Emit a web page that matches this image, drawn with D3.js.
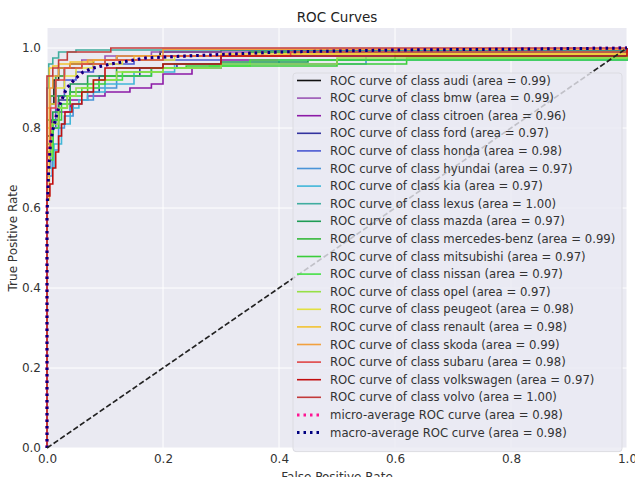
<!DOCTYPE html>
<html>
<head>
<meta charset="utf-8">
<script src="https://cdn.jsdelivr.net/npm/d3@7"></script>
<style>
  body { margin: 0; background: #fff; }
  svg { display: block; font-family: "DejaVu Sans", sans-serif; }
</style>
</head>
<body>
<div class="canvas"></div>
<script>
// ROC CURVES (d3.js)

// class names and areas, in legend order
const classes = ['audi', 'bmw', 'citroen', 'ford', 'honda', 'hyundai', 'kia', 'lexus', 'mazda',
    'mercedes-benz', 'mitsubishi', 'nissan', 'opel', 'peugeot', 'renault', 'skoda', 'subaru',
    'volkswagen', 'volvo'];
const areas = [0.99, 0.99, 0.96, 0.97, 0.98, 0.97, 0.97, 1.00, 0.97, 0.99, 0.97, 0.97, 0.97,
    0.98, 0.98, 0.99, 0.98, 0.97, 1.00];

// corner points of each class curve (false positive rate / true positive rate)
const classFpr = [
    [0, 0, 0.005, 0.012, 0.02, 0.04, 0.08, 0.12, 0.195, 0.3, 1],
    [0, 0, 0.006, 0.015, 0.03, 0.06, 0.1, 0.18, 1],
    [0, 0, 0.01, 0.02, 0.04, 0.07, 0.1, 0.143, 0.18, 0.2, 0.25, 0.3, 0.935, 1],
    [0, 0, 0.008, 0.02, 0.04, 0.057, 0.09, 0.16, 0.224, 0.5, 0.95, 1],
    [0, 0, 0.005, 0.015, 0.03, 0.05, 0.08, 0.15, 0.3, 0.6, 1],
    [0, 0, 0.009, 0.02, 0.03, 0.045, 0.06, 0.08, 0.12, 0.18, 0.3, 0.55, 1],
    [0, 0, 0.012, 0.025, 0.04, 0.055, 0.07, 0.1, 0.15, 0.22, 0.4, 1],
    [0, 0, 0.003, 0.01, 0.02, 0.05, 1],
    [0, 0, 0.01, 0.02, 0.04, 0.07, 0.12, 0.2, 0.3, 0.45, 0.6, 1],
    [0, 0, 0.005, 0.015, 0.03, 0.06, 0.1, 0.2, 0.35, 1],
    [0, 0, 0.01, 0.025, 0.04, 0.07, 0.1, 0.18, 0.24, 0.5, 0.62, 1],
    [0, 0, 0.01, 0.02, 0.035, 0.06, 0.09, 0.13, 0.2, 0.28, 0.35, 1],
    [0, 0, 0.008, 0.02, 0.035, 0.05, 0.08, 0.12, 0.2, 0.3, 0.5, 1],
    [0, 0, 0.005, 0.015, 0.03, 0.05, 0.08, 0.13, 0.22, 0.4, 1],
    [0, 0, 0.004, 0.01, 0.02, 0.04, 0.08, 0.15, 0.3, 1],
    [0, 0, 0.005, 0.01, 0.02, 0.04, 0.07, 0.12, 0.2, 0.7, 1],
    [0, 0, 0.006, 0.015, 0.03, 0.06, 0.1, 0.2, 0.42, 0.95, 1],
    [0, 0, 0.005, 0.01, 0.015, 0.02, 0.025, 0.031, 0.043, 0.06, 0.08, 0.1, 0.2, 0.3, 1],
    [0, 0, 0.01, 0.02, 0.035, 0.11, 1]
];
const classTpr = [
    [0, 0.78, 0.86, 0.92, 0.95, 0.96, 0.97, 0.98, 0.99, 0.995, 1],
    [0, 0.8, 0.88, 0.93, 0.95, 0.97, 0.98, 0.99, 1],
    [0, 0.72, 0.8, 0.84, 0.87, 0.88, 0.89, 0.9, 0.91, 0.935, 0.95, 0.97, 0.97, 1],
    [0, 0.75, 0.82, 0.87, 0.89, 0.89, 0.93, 0.95, 0.96, 0.97, 0.97, 1],
    [0, 0.7, 0.8, 0.88, 0.92, 0.94, 0.96, 0.97, 0.98, 0.99, 1],
    [0, 0.68, 0.745, 0.8, 0.83, 0.86, 0.87, 0.9, 0.93, 0.95, 0.96, 0.98, 1],
    [0, 0.7, 0.76, 0.81, 0.85, 0.87, 0.89, 0.91, 0.94, 0.96, 0.97, 1],
    [0, 0.9, 0.96, 0.975, 0.99, 0.995, 1],
    [0, 0.76, 0.84, 0.88, 0.91, 0.93, 0.95, 0.96, 0.965, 0.97, 0.98, 1],
    [0, 0.82, 0.88, 0.93, 0.95, 0.96, 0.97, 0.98, 0.99, 1],
    [0, 0.74, 0.82, 0.86, 0.89, 0.91, 0.93, 0.95, 0.955, 0.96, 0.975, 1],
    [0, 0.72, 0.8, 0.85, 0.88, 0.9, 0.92, 0.94, 0.95, 0.955, 0.97, 1],
    [0, 0.73, 0.81, 0.85, 0.88, 0.9, 0.92, 0.94, 0.95, 0.96, 0.975, 1],
    [0, 0.8, 0.86, 0.9, 0.93, 0.95, 0.96, 0.97, 0.98, 0.985, 1],
    [0, 0.62, 0.95, 0.955, 0.96, 0.965, 0.97, 0.98, 0.985, 1],
    [0, 0.85, 0.9, 0.93, 0.95, 0.96, 0.97, 0.98, 0.997, 0.997, 1],
    [0, 0.75, 0.85, 0.92, 0.95, 0.96, 0.97, 0.98, 0.99, 0.99, 1],
    [0, 0.63, 0.66, 0.7, 0.74, 0.78, 0.81, 0.84, 0.86, 0.89, 0.92, 0.95, 0.96, 0.98, 1],
    [0, 0.93, 0.95, 0.97, 0.99, 1, 1]
];

// averaged curves
const microArea = 0.98;
const microFpr = [0, 0, 0.003, 0.006, 0.01, 0.02, 0.034, 0.05, 0.062, 0.08, 0.11, 0.17, 0.24, 0.4, 0.6, 0.8, 1];
const microTpr = [0, 0.6, 0.72, 0.77, 0.8, 0.855, 0.9, 0.925, 0.94, 0.95, 0.96, 0.975, 0.98, 0.99, 0.995, 0.997, 1];
const macroArea = 0.98;
const macroFpr = [0, 0, 0.003, 0.006, 0.01, 0.02, 0.034, 0.05, 0.062, 0.08, 0.11, 0.17, 0.24, 0.4, 0.6, 0.8, 1];
const macroTpr = [0, 0.58, 0.7, 0.76, 0.795, 0.85, 0.9, 0.925, 0.94, 0.95, 0.96, 0.975, 0.98, 0.99, 0.995, 0.997, 1];

// line colours, one per class
const colors = ['#111111', '#9a55b4', '#8c1aa6', '#33339e', '#4a58d2', '#4a94d8', '#40b6d8', '#40ad9f',
    '#1f9c55', '#36b83a', '#3acd3a', '#44e044', '#96e046', '#e2e040', '#f2c232', '#f2a03e', '#e04646',
    '#c20e0e', '#c23a3a'];


const width = 635, height = 477;
const margin = { left: 47, right: 8, top: 28, bottom: 29 };

const svg = d3.select('.canvas').append('svg')
    .attr('width', width)
    .attr('height', height);

// scales
const x = d3.scaleLinear().domain([0, 1]).range([margin.left, width - margin.right]);
const y = d3.scaleLinear().domain([0, 1.05]).range([height - margin.bottom, margin.top]);

const ticks = [0, 0.2, 0.4, 0.6, 0.8, 1.0];

// plot background
svg.append('rect')
    .attr('x', x(0))
    .attr('y', y(1.05))
    .attr('width', x(1) - x(0))
    .attr('height', y(0) - y(1.05))
    .attr('fill', '#eaeaf2');

// grid
svg.append('g')
    .selectAll('line.vx')
    .data(ticks)
    .join('line')
    .attr('x1', d => x(d)).attr('x2', d => x(d))
    .attr('y1', y(0)).attr('y2', y(1.05))
    .attr('stroke', '#fff')
    .attr('stroke-width', 1);

svg.append('g')
    .selectAll('line.hy')
    .data(ticks)
    .join('line')
    .attr('x1', x(0)).attr('x2', x(1))
    .attr('y1', d => y(d)).attr('y2', d => y(d))
    .attr('stroke', '#fff')
    .attr('stroke-width', 1);

// axes
const xAxis = svg.append('g')
    .attr('transform', `translate(0,${y(0)})`)
    .call(d3.axisBottom(x).tickValues(ticks).tickSize(0).tickPadding(6).tickFormat(d3.format('.1f')));
const yAxis = svg.append('g')
    .attr('transform', `translate(${x(0)},0)`)
    .call(d3.axisLeft(y).tickValues(ticks).tickSize(0).tickPadding(6).tickFormat(d3.format('.1f')));

[xAxis, yAxis].forEach(a => {
    a.select('.domain').remove();
    a.selectAll('text')
        .attr('fill', '#333')
        .style('font-size', '12px')
        .style('font-family', '"DejaVu Sans", sans-serif');
});

// clip curves to the plot area
svg.append('clipPath').attr('id', 'plotclip')
    .append('rect')
    .attr('x', x(0) - 2).attr('y', y(1.05))
    .attr('width', x(1) - x(0) + 4).attr('height', y(0) - y(1.05) + 2);

const plot = svg.append('g').attr('clip-path', 'url(#plotclip)');

const stepLine = d3.line()
    .x(d => x(d[0]))
    .y(d => y(d[1]))
    .curve(d3.curveStepAfter);

const smoothLine = d3.line()
    .x(d => x(d[0]))
    .y(d => y(d[1]));

// CLASS CURVES
classes.forEach((c, i) => {
    const pts = classFpr[i].map((f, j) => [f, classTpr[i][j]]);
    plot.append('path')
        .attr('d', stepLine(pts))
        .attr('fill', 'none')
        .attr('stroke', colors[i])
        .attr('stroke-width', 1.6);
});

// AVERAGES
plot.append('path')
    .attr('d', smoothLine(microFpr.map((f, j) => [f, microTpr[j]])))
    .attr('fill', 'none')
    .attr('stroke', 'deeppink')
    .attr('stroke-width', 3)
    .attr('stroke-dasharray', '2.5,4');

plot.append('path')
    .attr('d', smoothLine(macroFpr.map((f, j) => [f, macroTpr[j]])))
    .attr('fill', 'none')
    .attr('stroke', 'navy')
    .attr('stroke-width', 3)
    .attr('stroke-dasharray', '2.5,4');

// chance diagonal
plot.append('line')
    .attr('x1', x(0)).attr('y1', y(0))
    .attr('x2', x(1)).attr('y2', y(1))
    .attr('stroke', '#222')
    .attr('stroke-width', 1.7)
    .attr('stroke-dasharray', '5.5,2.5');


// LEGEND
const legendItems = classes.map((c, i) => ({
    label: `ROC curve of class ${c} (area = ${areas[i].toFixed(2)})`,
    color: colors[i],
    dotted: false
})).concat([
    { label: `micro-average ROC curve (area = ${microArea.toFixed(2)})`, color: 'deeppink', dotted: true },
    { label: `macro-average ROC curve (area = ${macroArea.toFixed(2)})`, color: 'navy', dotted: true }
]);

const lx = 293, ly = 73, lw = 329, rowH = 17.6;
const legend = svg.append('g');

legend.append('rect')
    .attr('x', lx)
    .attr('y', ly)
    .attr('width', lw)
    .attr('height', rowH * legendItems.length + 9)
    .attr('rx', 3)
    .attr('fill', '#eaeaf2')
    .attr('fill-opacity', 0.8)
    .attr('stroke', '#dcdce2')
    .attr('stroke-width', 1);

legendItems.forEach((d, i) => {
    const cy = ly + 7.5 + rowH * i;
    legend.append('line')
        .attr('x1', lx + 4).attr('x2', lx + 28)
        .attr('y1', cy).attr('y2', cy)
        .attr('stroke', d.color)
        .attr('stroke-width', d.dotted ? 3 : 1.6)
        .attr('stroke-dasharray', d.dotted ? '2.5,4' : null);

    legend.append('text')
        .attr('x', lx + 37)
        .attr('y', cy)
        .attr('dy', '0.35em')
        .attr('fill', '#333')
        .style('font-size', '11.7px')
        .text(d.label);
});

// TITLES
svg.append('text')
    .attr('x', (x(0) + x(1)) / 2)
    .attr('y', 22)
    .attr('text-anchor', 'middle')
    .attr('fill', '#222')
    .style('font-size', '13.5px')
    .text('ROC Curves');

svg.append('text')
    .attr('x', (x(0) + x(1)) / 2)
    .attr('y', 481)
    .attr('text-anchor', 'middle')
    .attr('fill', '#333')
    .style('font-size', '12px')
    .text('False Positive Rate');

svg.append('text')
    .attr('transform', `translate(17,${(y(0) + y(1.05)) / 2}) rotate(-90)`)
    .attr('text-anchor', 'middle')
    .attr('fill', '#333')
    .style('font-size', '12px')
    .text('True Positive Rate');
</script>
</body>
</html>
